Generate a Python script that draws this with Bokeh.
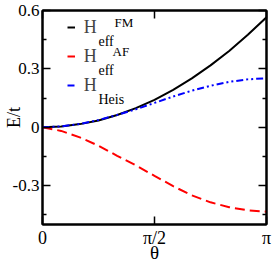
import math
from bokeh.plotting import figure
from bokeh.models import (FixedTicker, LinearAxis, Legend, LegendItem, Label,
                          ColumnDataSource)
from bokeh.embed import file_html
from bokeh.resources import INLINE

# theta in units of pi (steps of pi/12)
theta_over_pi = [0, 1/12, 2/12, 3/12, 4/12, 5/12, 6/12, 7/12, 8/12, 9/12, 10/12, 11/12, 1]
e_fm = [0.0, 0.004, 0.016, 0.035, 0.063, 0.098, 0.141, 0.192, 0.251, 0.318, 0.392, 0.475, 0.565]
e_af = [0.0, -0.019, -0.052, -0.095, -0.147, -0.196, -0.250, -0.303, -0.350, -0.386, -0.411, -0.427, -0.434]
e_heis = [0.0, 0.004, 0.017, 0.037, 0.063, 0.092, 0.125, 0.158, 0.188, 0.213, 0.233, 0.246, 0.252]

x_ticks = [0, math.pi / 2, math.pi]
x_tick_labels = ["0", "π/2", "π"]
y_ticks = [-0.3, 0, 0.3, 0.6]
y_tick_labels = ["-0.3", "0", "0.3", "0.6"]
y_minor = [-0.45, -0.15, 0.15, 0.45]

theta = [t * math.pi for t in theta_over_pi]
src = ColumnDataSource(dict(theta=theta, fm=e_fm, af=e_af, heis=e_heis))

FONT = "'Liberation Serif', 'Times New Roman', serif"

p = figure(width=273, height=265, output_backend="svg", toolbar_location=None,
           x_range=(0, math.pi), y_range=(-0.5, 0.6),
           min_border_left=41, min_border_right=7, min_border_top=10, min_border_bottom=36,
           background_fill_color="white", border_fill_color="white")
p.xgrid.visible = False
p.ygrid.visible = False
p.outline_line_color = "black"
p.outline_line_width = 2
p.outline_line_alpha = 1

r_fm = p.line("theta", "fm", source=src, line_color="black", line_width=2)
r_af = p.line("theta", "af", source=src, line_color="#ff0000", line_width=2, line_dash="10 5")
r_heis = p.line("theta", "heis", source=src, line_color="#0000ff", line_width=2, line_dash="7 3 2 3 2 3")

xt = FixedTicker(ticks=x_ticks)
yt = FixedTicker(ticks=y_ticks, minor_ticks=y_minor)

def style(ax, labels, size="18px"):
    ax.axis_line_color = "black"
    ax.axis_line_width = 2
    ax.major_tick_in = 8
    ax.major_tick_out = 0
    ax.minor_tick_in = 4
    ax.minor_tick_out = 0
    ax.major_tick_line_width = 1.5
    ax.minor_tick_line_width = 1.5
    ax.major_tick_line_color = "black"
    ax.minor_tick_line_color = "black"
    if labels:
        ax.major_label_text_font = FONT
        ax.major_label_text_font_size = size
        ax.major_label_text_color = "black"
        ax.major_label_standoff = 3
    else:
        ax.major_label_text_font_size = "0px"
        ax.major_label_standoff = 0

xa = p.xaxis[0]
xa.ticker = xt
xa.major_label_overrides = {v: s for v, s in zip(x_ticks, x_tick_labels)}
style(xa, True, "18px")
xa.axis_label = "θ"
xa.axis_label_text_font = FONT
xa.axis_label_text_font_size = "19px"
xa.axis_label_text_font_style = "normal"
xa.axis_label_text_color = "black"
xa.axis_label_standoff = -9

ya = p.yaxis[0]
ya.ticker = yt
ya.major_label_overrides = {v: s for v, s in zip(y_ticks, y_tick_labels)}
style(ya, True, "17px")
ya.axis_label = "E/t"
ya.axis_label_text_font = FONT
ya.axis_label_text_font_size = "18px"
ya.axis_label_text_font_style = "normal"
ya.axis_label_text_color = "black"
ya.axis_label_standoff = -14

top = LinearAxis(ticker=xt, major_label_overrides={v: "" for v in x_ticks})
style(top, False)
p.add_layout(top, "above")
right = LinearAxis(ticker=yt, major_label_overrides={v: "" for v in y_ticks})
style(right, False)
p.add_layout(right, "right")

legend = Legend(items=[LegendItem(label="H", renderers=[r_fm]),
                       LegendItem(label="H", renderers=[r_af]),
                       LegendItem(label="H", renderers=[r_heis])],
                location=(24.7, 127.7), glyph_width=8, glyph_height=22,
                label_height=22, label_standoff=9, spacing=7, padding=0, margin=0,
                border_line_color=None, background_fill_alpha=0,
                label_text_font=FONT, label_text_font_size="18px")
p.add_layout(legend)

def lab(text, x, y, size, **kw):
    p.add_layout(Label(x=x, y=y, x_units="screen", y_units="screen", text=text,
                       text_font=FONT, text_font_size=size, text_color="black", **kw))

lab("eff", 56, 183, "14px", text_baseline="alphabetic")
lab("FM", 72, 201.7, "13px", text_baseline="alphabetic")
lab("eff", 56, 154, "14px", text_baseline="alphabetic")
lab("AF", 70, 172.7, "13px", text_baseline="alphabetic")
lab("Heis", 56, 125, "14px", text_baseline="alphabetic")

open("out.html", "w").write(file_html(p, INLINE))
